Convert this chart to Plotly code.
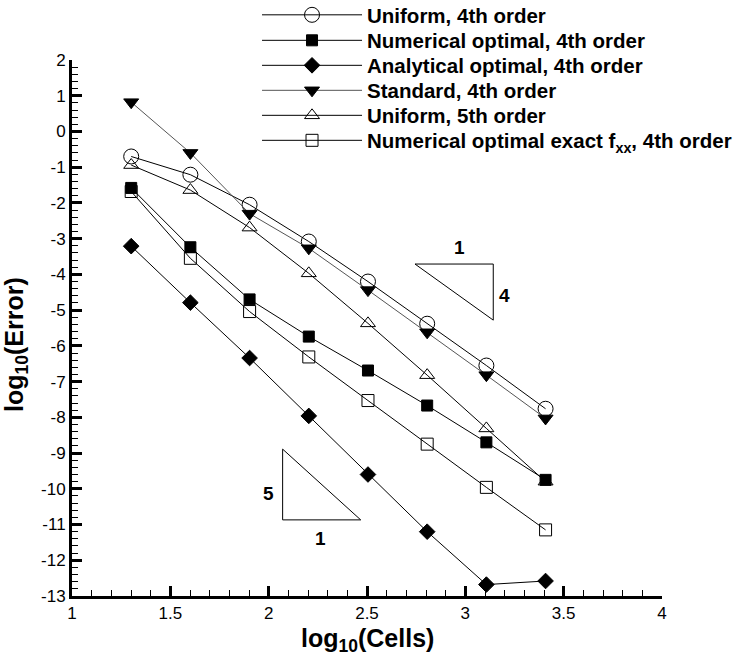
import plotly.graph_objects as go

# log10 of cell counts (20, 40, ..., 2560)
log_cells = [1.301, 1.602, 1.903, 2.204, 2.505, 2.806, 3.107, 3.408]

# log10 of error for each scheme
uniform_4th = [-0.70, -1.21, -2.05, -3.08, -4.20, -5.38, -6.55, -7.76]
numerical_opt_4th = [-1.58, -3.24, -4.70, -5.74, -6.69, -7.67, -8.70, -9.75]
analytical_opt_4th = [-3.21, -4.79, -6.34, -7.96, -9.60, -11.20, -12.68, -12.58]
standard_4th = [0.82, -0.60, -2.30, -3.27, -4.44, -5.62, -6.82, -8.03]
uniform_5th = [-0.94, -1.64, -2.69, -3.97, -5.37, -6.82, -8.31, -9.80]
numerical_exact_fxx_4th = [-1.68, -3.55, -5.04, -6.31, -7.53, -8.75, -9.96, -11.15]

series_names = [
    "Uniform, 4th order",
    "Numerical optimal, 4th order",
    "Analytical optimal, 4th order",
    "Standard, 4th order",
    "Uniform, 5th order",
    "Numerical optimal exact f<sub>xx</sub>, 4th order",
]

y_tick_vals = list(range(2, -14, -1))
y_tick_text = [str(v) for v in y_tick_vals]

# slope-reference triangles (x, y vertices in data units)
tri4_x = [2.744, 3.142, 3.142, 2.744]
tri4_y = [-3.71, -3.71, -5.28, -3.71]
tri5_x = [2.071, 2.071, 2.468, 2.071]
tri5_y = [-8.89, -10.87, -10.87, -8.89]

FONT = "Liberation Sans, Arial, Helvetica, sans-serif"

styles = [
    dict(symbol="circle-open", size=15, line_color="black"),
    dict(symbol="square", size=11, line_color="black"),
    dict(symbol="diamond", size=12, line_color="black"),
    dict(symbol="triangle-down", size=13, line_color="#555555"),
    dict(symbol="triangle-up-open", size=13, line_color="black"),
    dict(symbol="square-open", size=12, line_color="black"),
]
values = [uniform_4th, numerical_opt_4th, analytical_opt_4th,
          standard_4th, uniform_5th, numerical_exact_fxx_4th]

# one legend box per entry so rows sit at a fixed spacing
legend_ids = ["legend"] + [f"legend{k}" for k in range(2, 7)]

fig = go.Figure()
for i, (name, ys, st) in enumerate(zip(series_names, values, styles)):
    fig.add_trace(go.Scatter(
        x=log_cells, y=ys, name=f"<b>{name}</b>", mode="lines+markers",
        legend=legend_ids[i],
        line=dict(color=st["line_color"], width=1),
        marker=dict(symbol=st["symbol"], size=st["size"], color="black",
                    line=dict(color="black", width=1)),
    ))

for tx, ty in [(tri4_x, tri4_y), (tri5_x, tri5_y)]:
    fig.add_trace(go.Scatter(x=tx, y=ty, mode="lines", showlegend=False,
                             hoverinfo="skip",
                             line=dict(color="black", width=1)))

slope_labels = [
    (2.97, -3.26, "1"), (3.20, -4.58, "4"),
    (1.998, -10.13, "5"), (2.262, -11.39, "1"),
]
for x, y, t in slope_labels:
    fig.add_annotation(x=x, y=y, text=f"<b>{t}</b>", showarrow=False,
                       font=dict(family=FONT, size=19, color="black"))

# axis titles
fig.add_annotation(x=0.5, y=-0.082, xref="paper", yref="paper",
                   text="<b>log<sub>10</sub>(Cells)</b>", showarrow=False,
                   yanchor="middle",
                   font=dict(family=FONT, size=25, color="black"))
fig.add_annotation(x=-0.095, y=0.47, xref="paper", yref="paper",
                   text="<b>log<sub>10</sub>(Error)</b>", showarrow=False,
                   textangle=-90, xanchor="center",
                   font=dict(family=FONT, size=25, color="black"))

axis_common = dict(
    showline=True, linewidth=3, linecolor="black", mirror=False,
    showgrid=False, zeroline=False,
    ticks="inside", ticklen=10, tickwidth=3, tickcolor="black",
    tickfont=dict(family=FONT, size=17, color="black"),
)

fig.update_xaxes(
    range=[1, 4], dtick=0.5, tick0=1,
    minor=dict(ticks="inside", dtick=0.1, ticklen=6, tickwidth=1,
               tickcolor="black", showgrid=False),
    **axis_common,
)
fig.update_yaxes(
    range=[-13, 2], tickvals=y_tick_vals, ticktext=y_tick_text,
    minor=dict(ticks="inside", dtick=0.2, tick0=0, ticklen=6, tickwidth=1,
               tickcolor="black", showgrid=False),
    **axis_common,
)

row_px = [15, 40.5, 65.5, 90.5, 115.5, 140.5]
plot_top, plot_h = 60, 536
legend_layout = {}
for lid, py in zip(legend_ids, row_px):
    legend_layout[lid] = dict(
        x=0.3136, y=1 + (plot_top - py) / plot_h,
        xanchor="left", yanchor="middle",
        font=dict(family=FONT, size=20.5, color="black"),
        itemwidth=100, bgcolor="rgba(0,0,0,0)", borderwidth=0,
    )

fig.update_layout(
    width=737, height=661,
    margin=dict(l=72, r=75, t=60, b=65, autoexpand=False),
    plot_bgcolor="white", paper_bgcolor="white",
    showlegend=True,
    **legend_layout,
)

fig.write_html("out.html")
